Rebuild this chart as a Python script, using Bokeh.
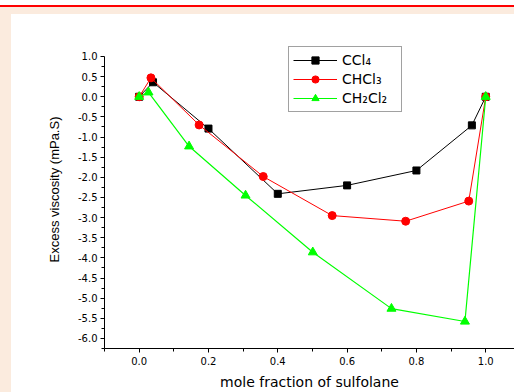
from bokeh.plotting import figure
from bokeh.models import (Range1d, FixedTicker, PrintfTickFormatter, Legend,
                          LegendItem, GlobalInlineStyleSheet)
from bokeh.embed import file_html
from bokeh.resources import INLINE

# ---- data ----
x_ccl4 = [0.0, 0.04, 0.20, 0.40, 0.60, 0.80, 0.96, 1.0]
y_ccl4 = [0.0, 0.36, -0.79, -2.41, -2.20, -1.83, -0.71, 0.0]

x_chcl3 = [0.0, 0.034, 0.173, 0.358, 0.557, 0.769, 0.951, 1.0]
y_chcl3 = [0.0, 0.47, -0.70, -1.98, -2.95, -3.09, -2.59, 0.0]

x_ch2cl2 = [0.0, 0.027, 0.144, 0.307, 0.501, 0.728, 0.94, 1.0]
y_ch2cl2 = [0.0, 0.11, -1.23, -2.45, -3.86, -5.26, -5.58, 0.0]

series_names = ["CCl\u2084", "CHCl\u2083", "CH\u2082Cl\u2082"]

x_ticks = [0.0, 0.2, 0.4, 0.6, 0.8, 1.0]
x_minor = [-0.1, 0.1, 0.3, 0.5, 0.7, 0.9]
y_ticks = [1.0, 0.5, 0.0, -0.5, -1.0, -1.5, -2.0, -2.5, -3.0, -3.5, -4.0,
           -4.5, -5.0, -5.5, -6.0]
y_minor = [0.75, 0.25, -0.25, -0.75, -1.25, -1.75, -2.25, -2.75, -3.25,
           -3.75, -4.25, -4.75, -5.25, -5.75, -6.25]

x_label = "mole fraction of sulfolane"
y_label = "Excess viscosity (mPa.S)"

FONT = "Liberation Sans"
WIDE = "DejaVu Sans"

page_css = GlobalInlineStyleSheet(css="""
body {
  margin: 0;
  background:
    linear-gradient(#FF0000, #FF0000) 0 5px / 100% 2px no-repeat,
    linear-gradient(#FBEBDE, #FBEBDE) 0 7px / 100% 7px no-repeat,
    linear-gradient(#FBEBDE, #FBEBDE) 0 7px / 11px 100% no-repeat,
    #FFFFFF;
}
""")

p = figure(width=514, height=392, output_backend="svg", toolbar_location=None,
           x_range=Range1d(-0.1, 1.083), y_range=Range1d(-6.25, 1.6455),
           min_border_left=104, min_border_right=0, min_border_top=30,
           min_border_bottom=44, stylesheets=[page_css])
p.border_fill_color = None
p.background_fill_color = None
p.outline_line_color = None
p.grid.visible = False

# axes
for ax in (p.xaxis[0], p.yaxis[0]):
    ax.axis_line_color = "black"
    ax.axis_line_width = 1
    ax.major_tick_line_color = "black"
    ax.minor_tick_line_color = "black"
    ax.major_tick_in = 0
    ax.major_tick_out = 4
    ax.minor_tick_in = 0
    ax.minor_tick_out = 3
    ax.major_label_text_font = WIDE
    ax.major_label_text_font_size = "10px"
    ax.major_label_text_color = "black"
    ax.axis_label_text_font_style = "normal"
    ax.axis_label_text_color = "black"
    ax.formatter = PrintfTickFormatter(format="%.1f")

p.xaxis.ticker = FixedTicker(ticks=x_ticks, minor_ticks=x_minor)
p.yaxis.ticker = FixedTicker(ticks=y_ticks, minor_ticks=y_minor)
p.yaxis.bounds = (-6.25, 1.0)
p.xaxis.axis_label = x_label
p.yaxis.axis_label = y_label
p.xaxis.axis_label_text_font = WIDE
p.xaxis.axis_label_text_font_size = "14px"
p.yaxis.axis_label_text_font = FONT
p.yaxis.axis_label_text_font_size = "13px"
p.xaxis.major_label_standoff = 4
p.xaxis.axis_label_standoff = 6
p.yaxis.major_label_standoff = 3
p.yaxis.axis_label_standoff = 13

# series
l1 = p.line(x_ccl4, y_ccl4, line_color="black", line_width=1)
m1 = p.scatter(x_ccl4, y_ccl4, marker="square", size=7, fill_color="black",
               line_color="black")
l2 = p.line(x_chcl3, y_chcl3, line_color="#FF0000", line_width=1)
m2 = p.scatter(x_chcl3, y_chcl3, marker="circle", size=8, fill_color="#FF0000",
               line_color="#FF0000")
l3 = p.line(x_ch2cl2, y_ch2cl2, line_color="#00FF00", line_width=1.2)
m3 = p.scatter(x_ch2cl2, y_ch2cl2, marker="triangle", size=9,
               fill_color="#00FF00", line_color="#00FF00")

legend = Legend(items=[
    LegendItem(label=series_names[0], renderers=[l1, m1]),
    LegendItem(label=series_names[1], renderers=[l2, m2]),
    LegendItem(label=series_names[2], renderers=[l3, m3]),
], location=(184, 236))
legend.border_line_color = "#444444"
legend.border_line_width = 1
legend.background_fill_color = "white"
legend.background_fill_alpha = 1
legend.label_text_font = WIDE
legend.label_text_font_size = "14px"
legend.label_text_color = "black"
legend.padding = 4
legend.spacing = 1
legend.margin = 0
legend.glyph_width = 44
legend.glyph_height = 18
legend.label_height = 18
legend.label_width = 55
legend.label_standoff = 5
p.add_layout(legend)

open("out.html", "w").write(file_html(p, INLINE))
